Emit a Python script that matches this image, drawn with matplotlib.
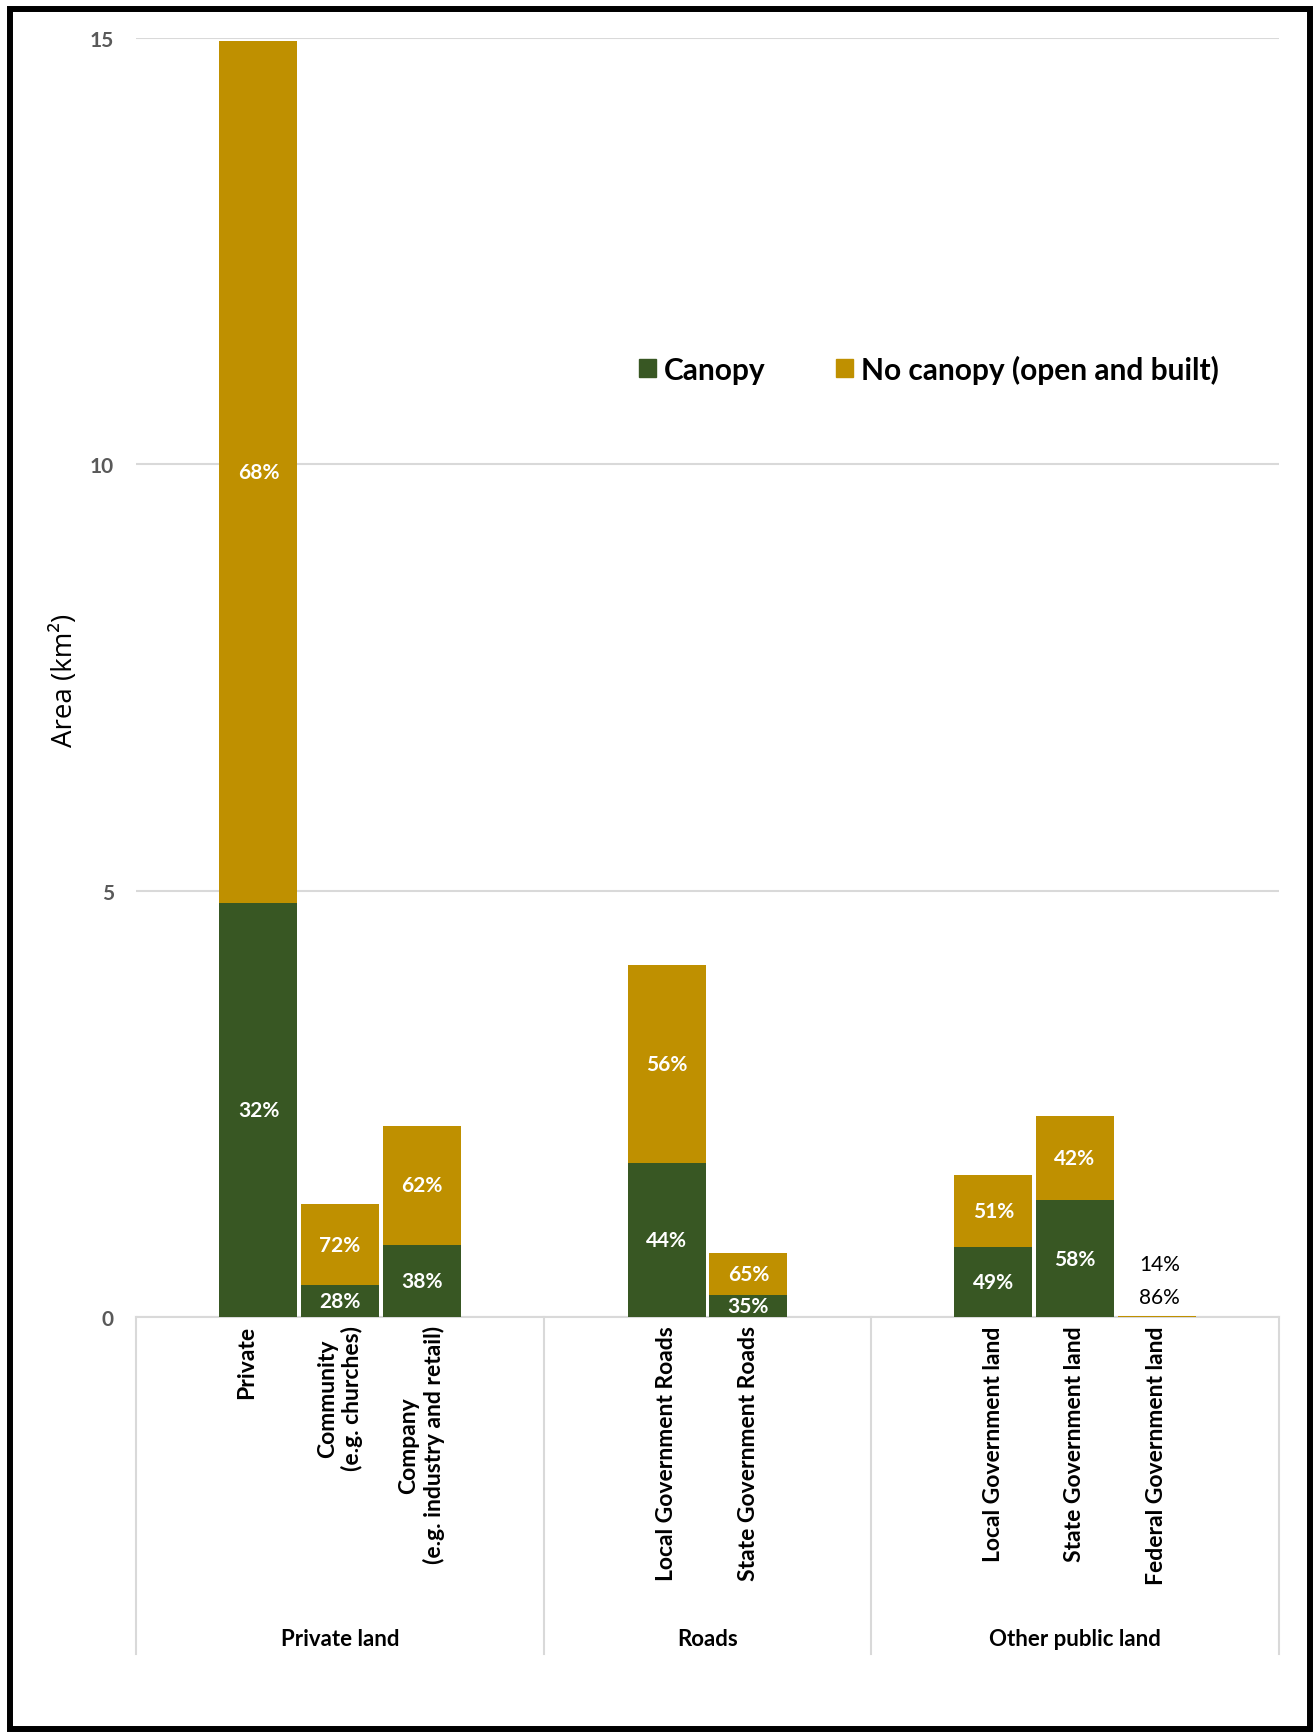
import matplotlib
matplotlib.use("Agg")
import matplotlib.pyplot as plt
from matplotlib.patches import Patch, Rectangle

# ---- data -------------------------------------------------------------
groups = ["Private land", "Roads", "Other public land"]
group_sizes = [3, 2, 3]
categories = [
    "Private\n",
    "Community\n(e.g. churches)",
    "Company\n(e.g. industry and retail)",
    "Local Government Roads",
    "State Government Roads",
    "Local Government land",
    "State Government land",
    "Federal Government land",
]
canopy_km2 = [4.85, 0.37, 0.85, 1.81, 0.26, 0.82, 1.37, 0.0017]
no_canopy_km2 = [10.11, 0.96, 1.39, 2.32, 0.49, 0.85, 0.99, 0.0103]
y_ticks = [0, 5, 10, 15]

GREEN = "#385723"
GOLD = "#BF9000"
GRID = "#D9D9D9"
FONT = "Lato"

W, H = 1314, 1733
fig = plt.figure(figsize=(W / 100, H / 100), dpi=100)
ax = fig.add_axes([136 / W, (H - 1318) / H, (1279 - 136) / W, (1318 - 39) / H])

# slot layout: every group is padded with one empty slot on each side
slots, group_bounds, group_centers = [], [-0.5], []
start = 0
for n in group_sizes:
    slots.extend(range(start + 1, start + 1 + n))
    group_centers.append(start + (n + 2) / 2 - 0.5)
    start += n + 2
    group_bounds.append(start - 0.5)

totals = [c + o for c, o in zip(canopy_km2, no_canopy_km2)]
canopy_pct = [round(100 * c / t) for c, t in zip(canopy_km2, totals)]
open_pct = [round(100 * o / t) for o, t in zip(no_canopy_km2, totals)]

bw = 0.955
ax.bar(slots, canopy_km2, width=bw, color=GREEN, linewidth=0, zorder=3)
ax.bar(slots, no_canopy_km2, width=bw, bottom=canopy_km2, color=GOLD,
       linewidth=0, zorder=3)

# percentage labels
for i, s in enumerate(slots):
    if totals[i] > 0.1:
        ax.text(s, canopy_km2[i] / 2, f"{canopy_pct[i]}%", ha="center",
                va="center", color="white", fontsize=15, fontweight="bold",
                family=FONT, zorder=4)
        ax.text(s, canopy_km2[i] + no_canopy_km2[i] / 2, f"{open_pct[i]}%",
                ha="center", va="center", color="white", fontsize=15,
                fontweight="bold", family=FONT, zorder=4)
    else:
        ax.annotate(f"{canopy_pct[i]}%", xy=(s, totals[i]),
                    xytext=(2, 52 * 0.72), textcoords="offset points",
                    ha="center", va="center", fontsize=15, family=FONT,
                    color="black")
        ax.annotate(f"{open_pct[i]}%", xy=(s, totals[i]),
                    xytext=(2, 19 * 0.72), textcoords="offset points",
                    ha="center", va="center", fontsize=15, family=FONT,
                    color="black")

ax.set_xlim(-0.5, start - 0.5)
ax.set_ylim(0, 15)
ax.set_yticks(y_ticks)
ax.set_yticklabels([str(t) for t in y_ticks], fontsize=15, fontweight="bold",
                   color="#595959", family=FONT)
ax.tick_params(axis="y", length=0, pad=16)
ax.set_xticks([])
ax.yaxis.grid(True, color=GRID, linewidth=1.5)
ax.set_axisbelow(True)
for side in ("top", "right", "left"):
    ax.spines[side].set_visible(False)
ax.spines["bottom"].set_color(GRID)
ax.spines["bottom"].set_linewidth(1.5)
ax.spines["bottom"].set_zorder(2)

# category labels
xt = ax.get_xaxis_transform()
for s, cat in zip(slots, categories):
    ax.annotate(cat, xy=(s, 0), xycoords=xt, xytext=(0, -6),
                textcoords="offset points", rotation=90, ha="center",
                va="top", multialignment="center", fontsize=16.5,
                fontweight="bold", family=FONT)

# group labels and separators
sep_depth = -(1655 - 1318) / (1318 - 39)
for b in group_bounds:
    ax.plot([b, b], [0, sep_depth], transform=xt, color=GRID, lw=1.5,
            clip_on=False)
for gc, g in zip(group_centers, groups):
    ax.annotate(g, xy=(gc, 0), xycoords=xt, xytext=(0, -322 * 0.72),
                textcoords="offset points", ha="center", va="center",
                fontsize=16, fontweight="bold", family=FONT)

fig.text(65 / W, 1 - 680 / H, "Area (km²)", rotation=90, ha="center",
         va="center", fontsize=20, family="Open Sans")

handles = [Patch(color=GREEN, label="Canopy"),
           Patch(color=GOLD, label="No canopy (open and built)")]
ax.legend(handles=handles, ncol=2, loc="center",
          bbox_to_anchor=(929 / W, 1 - 370 / H), bbox_transform=fig.transFigure,
          frameon=False, prop={"family": FONT, "weight": "bold", "size": 21.5},
          handlelength=0.57, handleheight=0.57, handletextpad=0.28,
          columnspacing=2.35)

# outer frame
fig.patches.append(Rectangle((10 / W, 3.5 / H), 1299.5 / W, (H - 13.5) / H,
                             transform=fig.transFigure, fill=False,
                             edgecolor="black", linewidth=4.3))

fig.savefig("out.png", dpi=100)
